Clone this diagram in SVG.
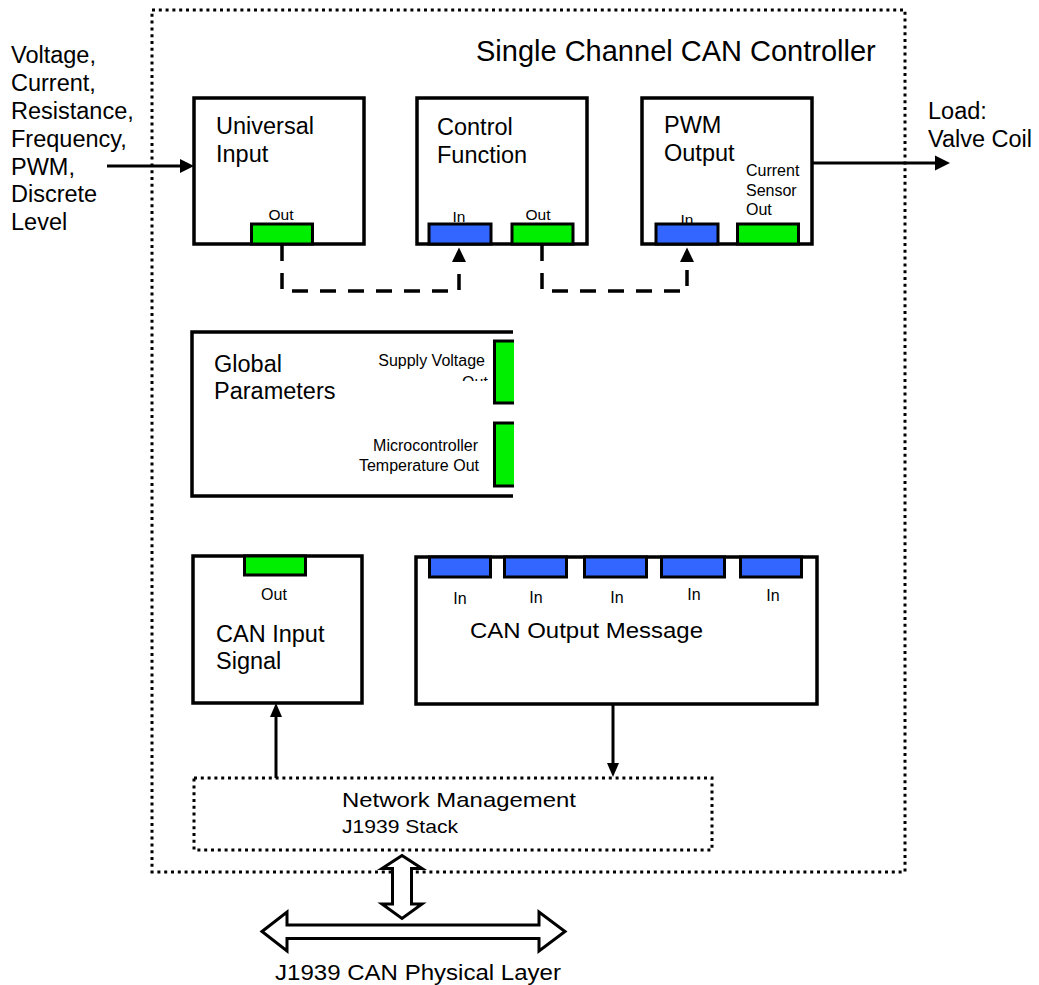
<svg xmlns="http://www.w3.org/2000/svg" width="1039" height="985" viewBox="0 0 1039 985">
<defs>
<style>
text{font-family:"Liberation Sans",Arial,sans-serif;fill:#000}
.big{font-size:23.5px}
.sm{font-size:16px}
.box{fill:#fff;stroke:#000;stroke-width:3.5}
.dot{fill:none;stroke:#000;stroke-width:3;stroke-dasharray:3 3.8}
.g{fill:#00ee00;stroke:#000;stroke-width:3}
.b{fill:#3366ff;stroke:#000;stroke-width:3}
.dash{fill:none;stroke:#000;stroke-width:3.5;stroke-dasharray:16 12}
.ln{fill:none;stroke:#000;stroke-width:3}
.hd{fill:#000}
.hollow{fill:#fff;stroke:#000;stroke-width:3;stroke-linejoin:miter}
</style>
<clipPath id="clipOut"><rect x="440" y="370" width="60" height="11"/></clipPath>
</defs>
<rect width="1039" height="985" fill="#fff"/>

<g id="controller">
<rect class="dot" x="152" y="10" width="753" height="862"/>
<text x="476" y="61" style="font-size:29px">Single Channel CAN Controller</text>
</g>

<g id="inputs-label">
<text class="big" x="11" y="63">Voltage,</text>
<text class="big" x="11" y="91">Current,</text>
<text class="big" x="11" y="119">Resistance,</text>
<text class="big" x="11" y="147">Frequency,</text>
<text class="big" x="11" y="175">PWM,</text>
<text class="big" x="11" y="202">Discrete</text>
<text class="big" x="11" y="230">Level</text>
</g>

<g id="load-label">
<text class="big" x="928" y="119">Load:</text>
<text class="big" x="928" y="147">Valve Coil</text>
</g>

<g id="universal-input">
<rect class="box" x="194" y="98" width="170" height="146"/>
<text class="big" x="216" y="134">Universal</text>
<text class="big" x="216" y="162">Input</text>
<text x="281" y="220" text-anchor="middle" style="font-size:15.5px">Out</text>
<rect class="g" x="251.5" y="224" width="61" height="20"/>
</g>

<g id="control-function">
<rect class="box" x="417" y="98" width="170" height="146"/>
<text class="big" x="437" y="135">Control</text>
<text class="big" x="437" y="163">Function</text>
<text x="459" y="222" text-anchor="middle" style="font-size:15.5px">In</text>
<text x="538" y="220" text-anchor="middle" style="font-size:15.5px">Out</text>
<rect class="b" x="429" y="224" width="62" height="20"/>
<rect class="g" x="512" y="224" width="61" height="20"/>
</g>

<g id="pwm-output">
<rect class="box" x="642" y="98" width="170" height="146"/>
<text class="big" x="664" y="133">PWM</text>
<text class="big" x="664" y="161">Output</text>
<text class="sm" x="746" y="176">Current</text>
<text class="sm" x="746" y="196">Sensor</text>
<text class="sm" x="746" y="215">Out</text>
<text x="687" y="225" text-anchor="middle" style="font-size:15.5px">In</text>
<rect class="b" x="656" y="224" width="62" height="20"/>
<rect class="g" x="737.5" y="224" width="61" height="20"/>
</g>

<g id="global-parameters">
<path d="M513,332 H192 V496 H513" class="box"/>
<text class="big" x="214" y="372">Global</text>
<text class="big" x="214" y="399">Parameters</text>
<text class="sm" x="485" y="366" text-anchor="end">Supply Voltage</text>
<text class="sm" x="475" y="387.5" text-anchor="middle" clip-path="url(#clipOut)">Out</text>
<text class="sm" x="478" y="451" text-anchor="end">Microcontroller</text>
<text class="sm" x="479" y="471" text-anchor="end">Temperature Out</text>
<rect x="494" y="341" width="20" height="62" fill="#00ee00"/>
<path d="M514,341 H494.5 V403 H514" class="ln"/>
<rect x="494" y="423" width="20" height="63" fill="#00ee00"/>
<path d="M514,423 H494.5 V486 H514" class="ln"/>
</g>

<g id="can-input-signal">
<rect class="box" x="193" y="556" width="169" height="147"/>
<rect class="g" x="244.5" y="556" width="61" height="19"/>
<text class="sm" x="274" y="600" text-anchor="middle">Out</text>
<text class="big" x="216" y="642">CAN Input</text>
<text class="big" x="216" y="669">Signal</text>
</g>

<g id="can-output-message">
<rect class="box" x="416" y="557" width="401" height="147"/>
<rect class="b" x="429.5" y="557" width="61" height="20"/>
<rect class="b" x="504.5" y="557" width="62" height="20"/>
<rect class="b" x="584.5" y="557" width="62" height="20"/>
<rect class="b" x="661.5" y="557" width="63" height="20"/>
<rect class="b" x="740.5" y="557" width="61" height="20"/>
<text class="sm" x="460" y="604" text-anchor="middle">In</text>
<text class="sm" x="536" y="603" text-anchor="middle">In</text>
<text class="sm" x="617" y="603" text-anchor="middle">In</text>
<text class="sm" x="694" y="600" text-anchor="middle">In</text>
<text class="sm" x="773" y="601" text-anchor="middle">In</text>
<text x="470" y="638" style="font-size:22px" textLength="233" lengthAdjust="spacingAndGlyphs">CAN Output Message</text>
</g>

<g id="network-management">
<rect class="dot" x="194" y="778" width="518" height="72"/>
<text x="342" y="807" style="font-size:21px" textLength="234" lengthAdjust="spacingAndGlyphs">Network Management</text>
<text x="342" y="833" style="font-size:19px" textLength="116" lengthAdjust="spacingAndGlyphs">J1939 Stack</text>
</g>

<g id="physical-layer">
<text x="275" y="980" style="font-size:22px" textLength="286" lengthAdjust="spacingAndGlyphs">J1939 CAN Physical Layer</text>
</g>

<g id="connectors">
<line class="ln" x1="107" y1="166" x2="182" y2="166"/>
<polygon class="hd" points="194,166 180,159 180,173"/>
<line class="ln" x1="812" y1="163" x2="937" y2="163"/>
<polygon class="hd" points="950,163 935,155.5 935,170.5"/>
<path class="dash" d="M282,245 V291 H459 V262"/>
<polygon class="hd" points="459,247.5 452,262 466,262"/>
<path class="dash" d="M542,245 V291 H687 V262"/>
<polygon class="hd" points="687,247.5 680,262 694,262"/>
<line class="ln" x1="276" y1="778" x2="276" y2="715"/>
<polygon class="hd" points="276,703 270,717 282,717"/>
<line class="ln" x1="613" y1="705" x2="613" y2="765"/>
<polygon class="hd" points="613,777 607,763 619,763"/>
<polygon class="hollow" points="402,855.5 422,868.5 411.5,868.5 411.5,904 422,904 402,918.5 382,904 392.5,904 392.5,868.5 382,868.5"/>
<polygon class="hollow" points="262,931.5 287,912 287,925 539,925 539,912 565,931.5 539,951 539,938.5 287,938.5 287,951"/>
</g>
</svg>
